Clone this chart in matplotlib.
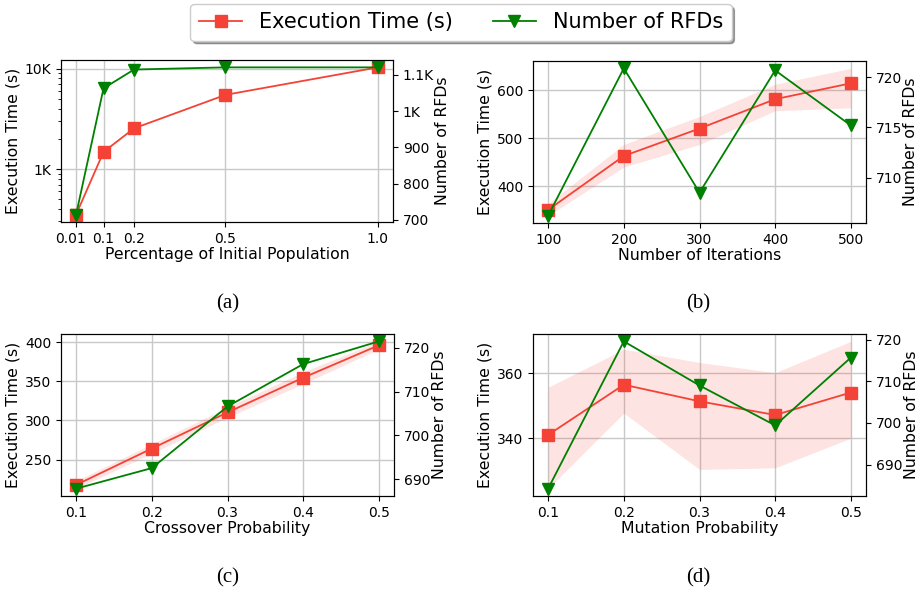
import matplotlib
matplotlib.use('Agg')
import matplotlib.pyplot as plt
import matplotlib.transforms as mtransforms
from matplotlib.ticker import FuncFormatter, NullFormatter
import numpy as np

# (a) percentage of initial population
pop_x = [0.01, 0.1, 0.2, 0.5, 1.0]
pop_time = [351, 1480, 2540, 5480, 10300]
pop_rfds = [714, 1063, 1115, 1121, 1121]

# (b) number of iterations
iter_x = [100, 200, 300, 400, 500]
iter_time = [351, 463, 520, 581, 614]
iter_time_lo = [339, 440, 487, 557, 563]
iter_time_hi = [364, 487, 545, 612, 645]
iter_rfds = [706.2, 720.9, 708.5, 720.7, 715.2]

# (c) crossover probability
cross_x = [0.1, 0.2, 0.3, 0.4, 0.5]
cross_time = [217.8, 264.2, 310.3, 354.6, 396.0]
cross_time_lo = [213, 258, 304, 347, 391]
cross_time_hi = [223, 270, 317, 362, 401]
cross_rfds = [687.8, 692.5, 706.6, 716.3, 721.5]

# (d) mutation probability
mut_x = [0.1, 0.2, 0.3, 0.4, 0.5]
mut_time = [341.1, 356.5, 351.4, 347.2, 354.1]
mut_time_lo = [324.6, 347.8, 330.5, 331.0, 340.1]
mut_time_hi = [355.7, 367.4, 363.3, 360.2, 369.8]
mut_rfds = [684.2, 719.6, 709.0, 699.4, 715.7]

RED = '#f44336'
GREEN = 'green'

plt.rcParams['font.family'] = ['DejaVu Sans']
plt.rcParams['xtick.labelsize'] = 10
plt.rcParams['ytick.labelsize'] = 10
plt.rcParams['axes.labelsize'] = 11.3


def kfmt(v, pos):
    if v >= 1000:
        return f'{v / 1000:g}K'
    return f'{v:g}'


fig = plt.figure(figsize=(9.22, 5.94), dpi=100)

W, H = 922, 594
boxes = {
    'a': (61, 60, 393, 222),
    'b': (533, 61, 866, 223),
    'c': (61, 334, 394, 496),
    'd': (533, 334, 866, 496),
}


def make_ax(key):
    x0, y0, x1, y1 = boxes[key]
    return fig.add_axes([x0 / W, 1 - y1 / H, (x1 - x0) / W, (y1 - y0) / H])


def panel(key, x, t, r, xlabel, lo=None, hi=None, logy=False, xticks=None):
    ax = make_ax(key)
    if lo is not None:
        ax.fill_between(x, lo, hi, color=RED, alpha=0.15, linewidth=0)
    l1, = ax.plot(x, t, color=RED, marker='s', markersize=8, linewidth=1.3,
                  label='Execution Time (s)')
    if logy:
        ax.set_yscale('log')
        ax.yaxis.set_major_formatter(FuncFormatter(kfmt))
        ax.yaxis.set_minor_formatter(NullFormatter())
    ax.grid(True, color='#c8c8c8', linewidth=1.0)
    ax.set_axisbelow(True)
    ax.set_ylabel('Execution Time (s)', labelpad=3)
    ax.set_xlabel(xlabel, labelpad=1)
    if xticks is not None:
        ax.set_xticks(xticks)
        ax.set_xticklabels([f'{v:g}' if v != 1.0 else '1.0' for v in xticks])
    else:
        ax.set_xticks(x)
    ax2 = ax.twinx()
    l2, = ax2.plot(x, r, color=GREEN, marker='v', markersize=8.5, linewidth=1.3,
                   label='Number of RFDs')
    ax2.set_ylabel('Number of RFDs', labelpad=1)
    ax2.yaxis.set_major_formatter(FuncFormatter(kfmt))
    return ax, ax2, l1, l2


ax_a, ax_a2, h1, h2 = panel('a', pop_x, pop_time, pop_rfds,
                            'Percentage of Initial Population', logy=True,
                            xticks=pop_x)
ax_a2.set_yticks([700, 800, 900, 1000, 1100])
# nudge the crowded first label left so it clears "0.1"
first = ax_a.get_xticklabels()[0]
first.set_transform(first.get_transform() +
                    mtransforms.ScaledTranslation(-6 / 100, 0, fig.dpi_scale_trans))

ax_b, ax_b2, _, _ = panel('b', iter_x, iter_time, iter_rfds,
                          'Number of Iterations', iter_time_lo, iter_time_hi)
ax_b.set_yticks([400, 500, 600])
ax_b2.set_yticks([710, 715, 720])

ax_c, ax_c2, _, _ = panel('c', cross_x, cross_time, cross_rfds,
                          'Crossover Probability', cross_time_lo, cross_time_hi)
ax_c.set_yticks([250, 300, 350, 400])
ax_c2.set_yticks([690, 700, 710, 720])

ax_d, ax_d2, _, _ = panel('d', mut_x, mut_time, mut_rfds,
                          'Mutation Probability', mut_time_lo, mut_time_hi)
ax_d.set_yticks([340, 360])
ax_d2.set_yticks([690, 700, 710, 720])

# panel captions
for lab, (cx, cy) in {'(a)': (228, 304), '(b)': (698, 304),
                      '(c)': (228, 578), '(d)': (698, 578)}.items():
    fig.text(cx / W, 1 - cy / H, lab, ha='center', va='center',
             family='Liberation Serif', fontsize=15)

fig.legend([h1, h2], ['Execution Time (s)', 'Number of RFDs'],
           loc='upper center', bbox_to_anchor=(0.5, 1.0), ncol=2,
           fontsize=15, shadow=True, fancybox=True, handlelength=2.1,
           handletextpad=0.8, columnspacing=1.9, borderaxespad=0.2)

fig.savefig('out.png', dpi=100)
